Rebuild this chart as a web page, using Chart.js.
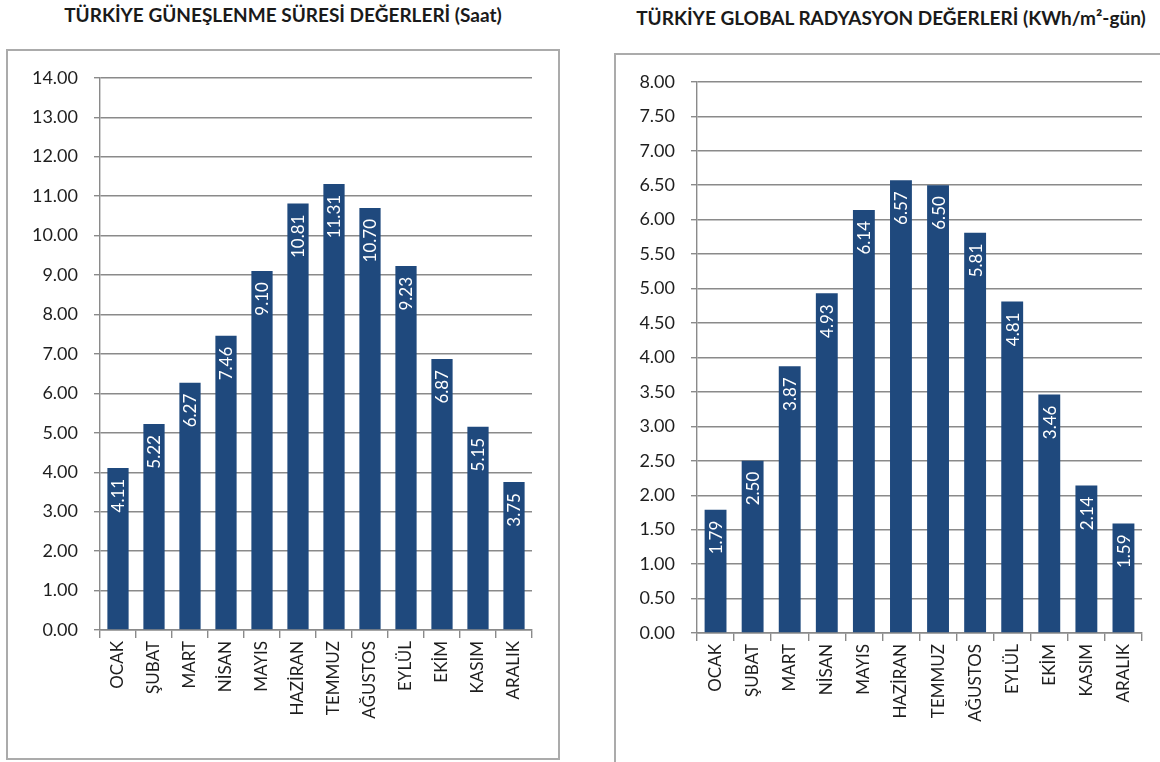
<!DOCTYPE html>
<html>
<head>
<meta charset="utf-8">
<script src="https://cdn.jsdelivr.net/npm/chart.js@4"></script>
<style>
  html, body { margin: 0; padding: 0; background: #fff; width: 1160px; height: 762px; overflow: hidden; position: relative; }
  .title { position: absolute; font-family: Lato, "Open Sans", sans-serif; font-weight: bold; font-size: 19px; line-height: 23px; color: #1a1a1a; white-space: nowrap; transform: translateX(-50%); }
  .box { position: absolute; border: 2px solid #ababab; box-sizing: border-box; }
  canvas { position: absolute; }
</style>
</head>
<body>
<div class="title" id="t1" style="left:283px; top:3px;">TÜRKİYE GÜNEŞLENME SÜRESİ DEĞERLERİ (Saat)</div>
<div class="title" id="t2" style="left:891px; top:6px;">TÜRKİYE GLOBAL RADYASYON DEĞERLERİ (KWh/m²-gün)</div>
<div class="box" style="left:6px; top:49px; width:554px; height:711px;"></div>
<div class="box" style="left:614px; top:53px; width:600px; height:760px;"></div>
<div style="position:absolute; left:8px; top:51px; width:550px; height:707px;"><canvas id="c1"></canvas></div>
<div style="position:absolute; left:616px; top:55px; width:544px; height:707px;"><canvas id="c2"></canvas></div>
<script>
const months = ["OCAK","ŞUBAT","MART","NİSAN","MAYIS","HAZİRAN","TEMMUZ","AĞUSTOS","EYLÜL","EKİM","KASIM","ARALIK"];
const sunshineHours = [4.11,5.22,6.27,7.46,9.10,10.81,11.31,10.70,9.23,6.87,5.15,3.75];
const radiation = [1.79,2.50,3.87,4.93,6.14,6.57,6.50,5.81,4.81,3.46,2.14,1.59];
const sunAxis = { min: 0, max: 14, step: 1 };
const radAxis = { min: 0, max: 8, step: 0.5 };

const BAR = '#1F497D';
const GRID = '#8a8a8a';
const FONT = 'Lato, "Open Sans", sans-serif';

const valueLabels = {
  id: 'valueLabels',
  afterDatasetsDraw(chart) {
    const ctx = chart.ctx;
    const meta = chart.getDatasetMeta(0);
    const data = chart.data.datasets[0].data;
    ctx.save();
    ctx.fillStyle = '#ffffff';
    ctx.font = '17px ' + FONT;
    ctx.textAlign = 'right';
    ctx.textBaseline = 'middle';
    meta.data.forEach((bar, i) => {
      ctx.save();
      ctx.translate(bar.x + 1, bar.y + 11);
      ctx.rotate(-Math.PI / 2);
      ctx.fillText(data[i].toFixed(2), 0, 0);
      ctx.restore();
    });
    ctx.restore();
  }
};

function makeChart(id, values, axis, yWidth, xHeight, pad) {
  return new Chart(document.getElementById(id), {
    type: 'bar',
    data: {
      labels: months,
      datasets: [{
        data: values,
        backgroundColor: BAR,
        borderWidth: 0,
        barPercentage: 0.59,
        categoryPercentage: 1.0
      }]
    },
    options: {
      responsive: true,
      maintainAspectRatio: false,
      animation: false,
      events: [],
      layout: { padding: pad },
      plugins: { legend: { display: false }, tooltip: { enabled: false }, title: { display: false } },
      scales: {
        x: {
          grid: { offset: true, drawOnChartArea: false, drawTicks: true, tickLength: 8, color: GRID, lineWidth: 1.4 },
          border: { display: true, color: GRID, width: 1.4 },
          ticks: { autoSkip: false, maxRotation: 90, minRotation: 90, padding: 3, color: '#1e1e1e', font: { family: FONT, size: 17 } },
          afterFit(s) { s.height = xHeight; }
        },
        y: {
          min: axis.min, max: axis.max,
          grid: { color: GRID, lineWidth: 1.4, tickLength: 6, drawTicks: true },
          border: { display: true, color: GRID, width: 1.4 },
          ticks: { stepSize: axis.step, padding: 16, color: '#1e1e1e', font: { family: FONT, size: 18 },
                   callback: v => Number(v).toFixed(2) },
          afterFit(s) { s.width = yWidth; }
        }
      }
    },
    plugins: [valueLabels]
  });
}

makeChart('c1', sunshineHours, sunAxis, 92, 128, { top: 24, right: 26, left: 0, bottom: 0 });
makeChart('c2', radiation, radAxis, 81, 129, { top: 23, right: 18, left: 0, bottom: 0 });
</script>
</body>
</html>
